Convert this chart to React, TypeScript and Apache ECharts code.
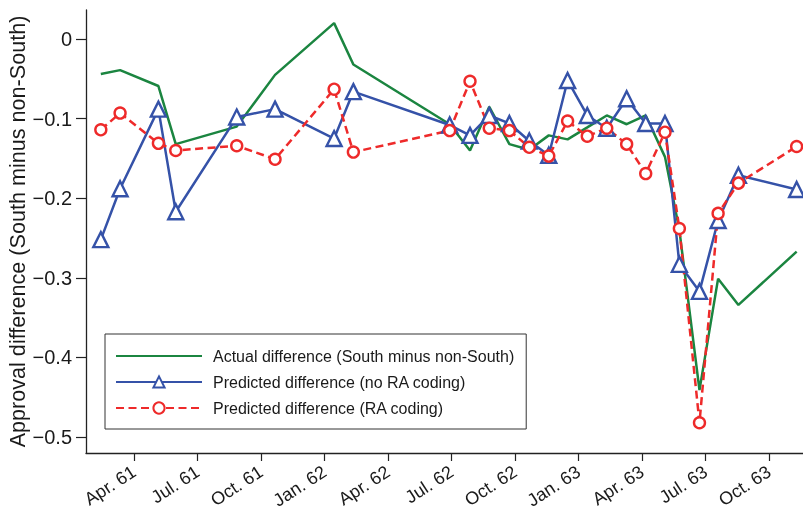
import React, { useEffect, useRef } from "react";
import * as echarts from "echarts";

// x positions: months since Jan 1961 (Apr. 61 = 3)
const months = [1.43, 2.34, 4.15, 4.97, 7.85, 9.66, 12.45, 13.36, 17.91, 18.87, 19.78, 20.73, 21.67, 22.59, 23.48, 24.41, 25.33, 26.27, 27.17, 28.08, 28.76, 29.71, 30.59, 31.55, 34.3];

const actualDiff = [-0.044, -0.039, -0.059, -0.132, -0.11, -0.045, 0.02, -0.032, -0.107, -0.14, -0.085, -0.132, -0.139, -0.121, -0.126, -0.111, -0.096, -0.107, -0.096, -0.148, -0.24, -0.441, -0.301, -0.334, -0.267];
const predNoRA = [-0.252, -0.188, -0.088, -0.217, -0.098, -0.088, -0.125, -0.066, -0.108, -0.121, -0.096, -0.106, -0.128, -0.146, -0.052, -0.096, -0.112, -0.075, -0.106, -0.106, -0.283, -0.317, -0.228, -0.171, -0.189];
const predRA = [-0.114, -0.093, -0.131, -0.14, -0.134, -0.151, -0.063, -0.142, -0.115, -0.053, -0.112, -0.115, -0.136, -0.147, -0.103, -0.122, -0.112, -0.132, -0.169, -0.117, -0.238, -0.482, -0.219, -0.181, -0.135];

const tickMonths = [3, 6, 9, 12, 15, 18, 21, 24, 27, 30, 33];
const tickLabels = ["Apr. 61", "Jul. 61", "Oct. 61", "Jan. 62", "Apr. 62", "Jul. 62", "Oct. 62", "Jan. 63", "Apr. 63", "Jul. 63", "Oct. 63"];
const yTicks = [0, -0.1, -0.2, -0.3, -0.4, -0.5];

const seriesNames = [
  "Actual difference (South minus non-South)",
  "Predicted difference (no RA coding)",
  "Predicted difference (RA coding)",
];

const GREEN = "#1b8540";
const BLUE = "#3552a8";
const RED = "#ee2a2a";

const pair = (vals: number[]) => vals.map((v, i) => [months[i], v]);

export default function App() {
  const ref = useRef<HTMLDivElement>(null);
  useEffect(() => {
    if (!ref.current) return;
    const chart = echarts.init(ref.current, undefined, { renderer: "svg" });
    const font = "'Liberation Sans', Arial, Helvetica, sans-serif";
    chart.setOption({
      animation: false,
      textStyle: { fontFamily: font },
      grid: { left: 86, top: 10, right: 0, bottom: 65, containLabel: false, outerBoundsMode: "none" },
      legend: {
        left: 105,
        top: 334,
        orient: "vertical",
        data: [
          { name: seriesNames[0], itemStyle: { opacity: 0 } },
          { name: seriesNames[1] },
          { name: seriesNames[2] },
        ],
        itemWidth: 86,
        itemHeight: 14,
        itemGap: 10,
        padding: [14, 12, 13, 10],
        borderColor: "#333",
        borderWidth: 1,
        backgroundColor: "#fff",
        textStyle: { fontSize: 16, color: "#1a1a1a", fontFamily: font, padding: [0, 0, 0, 6] },
      },
      xAxis: {
        type: "value",
        min: 0.73,
        max: 34.6,
        splitLine: { show: false },
        axisLine: { show: true, onZero: false, lineStyle: { color: "#222", width: 1.3 } },
        axisTick: { show: true, length: 8, customValues: tickMonths, lineStyle: { color: "#222", width: 1.2 } },
        axisLabel: {
          customValues: tickMonths,
          rotate: 33,
          margin: 17,
          fontSize: 18,
          color: "#1a1a1a",
          fontFamily: font,
          formatter: (v: number) => {
            const i = tickMonths.indexOf(Math.round(v));
            return i >= 0 ? tickLabels[i] : "";
          },
        },
      },
      yAxis: {
        type: "value",
        min: -0.52,
        max: 0.0365,
        name: "Approval difference (South minus non-South)",
        nameLocation: "middle",
        nameRotate: 90,
        nameGap: 58,
        nameMoveOverlap: false,
        nameTextStyle: { fontSize: 21.6, color: "#1a1a1a", fontFamily: font },
        splitLine: { show: false },
        axisLine: { show: true, onZero: false, lineStyle: { color: "#222", width: 1.3 } },
        axisTick: { show: true, length: 10, customValues: yTicks, lineStyle: { color: "#222", width: 1.2 } },
        axisLabel: {
          customValues: yTicks,
          margin: 14,
          fontSize: 20,
          color: "#1a1a1a",
          fontFamily: font,
          formatter: (v: number) => (Math.abs(v) < 1e-9 ? "0" : "\u2212" + Math.abs(v).toFixed(1)),
        },
      },
      series: [
        {
          name: seriesNames[0],
          type: "line",
          data: pair(actualDiff),
          symbol: "none",
          lineStyle: { color: GREEN, width: 2.5 },
          itemStyle: { color: GREEN },
        },
        {
          name: seriesNames[1],
          type: "line",
          data: pair(predNoRA),
          symbol: "triangle",
          symbolSize: 15,
          lineStyle: { color: BLUE, width: 2.5 },
          itemStyle: { color: "#fff", borderColor: BLUE, borderWidth: 2.4 },
        },
        {
          name: seriesNames[2],
          type: "line",
          data: pair(predRA),
          symbol: "circle",
          symbolSize: 11,
          lineStyle: { color: RED, width: 2.5, type: [8, 4.5] },
          itemStyle: { color: "#fff", borderColor: RED, borderWidth: 2.4 },
        },
      ],
    });
    return () => chart.dispose();
  }, []);
  return <div ref={ref} style={{ position: "fixed", left: 0, top: 0, width: 803, height: 518 }} />;
}
